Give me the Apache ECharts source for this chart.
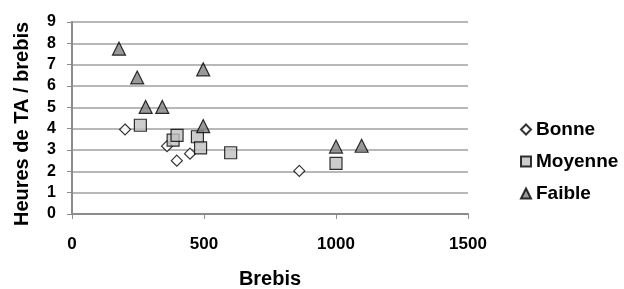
<!DOCTYPE html>
<html>
<head>
<meta charset="utf-8">
<script src="https://cdn.jsdelivr.net/npm/echarts@6/dist/echarts.min.js"></script>
<style>
html,body{margin:0;padding:0;background:#fff;}
#chart{width:624px;height:289px;}
</style>
</head>
<body>
<div id="chart"></div>
<script>
// donnees
var bonne = [[201, 3.96], [360, 3.18], [397, 2.5], [447, 2.83], [861, 2.02]];
var moyenne = [[259, 4.16], [383, 3.46], [398, 3.69], [475, 3.62], [487, 3.1], [601, 2.87], [1000, 2.37]];
var faible = [[178, 7.75], [247, 6.4], [279, 5.02], [342, 5.02], [497, 6.78], [497, 4.12], [1000, 3.16], [1097, 3.2]];
var seriesNames = ['Bonne', 'Moyenne', 'Faible'];

var font = 'Liberation Sans, Arial, sans-serif';

var myChart = echarts.init(document.getElementById('chart'), null, {renderer: 'canvas'});
var option = {
    animation: false,
    textStyle: {fontFamily: font},
    grid: {left: 72, right: 156, top: 22, bottom: 75, outerBoundsMode: 'none'},
    legend: {
        orient: 'vertical',
        left: 515,
        top: 115,
        itemWidth: 10,
        itemHeight: 10,
        itemGap: 13,
        textStyle: {fontFamily: font, fontWeight: 'bold', fontSize: 19, color: '#000'},
        data: seriesNames
    },
    xAxis: {
        type: 'value',
        min: 0,
        max: 1500,
        interval: 500,
        name: 'Brebis',
        nameLocation: 'middle',
        nameGap: 55,
        nameTextStyle: {fontFamily: font, fontWeight: 'bold', fontSize: 20, color: '#000'},
        axisLine: {show: true, lineStyle: {color: '#8c8c8c', width: 2}},
        axisTick: {show: true, length: 5, lineStyle: {color: '#8c8c8c'}},
        axisLabel: {
            fontFamily: font, fontWeight: 'bold', fontSize: 17, color: '#000', margin: 22,
            formatter: function (v) { return String(v); }
        },
        splitLine: {show: false}
    },
    yAxis: {
        type: 'value',
        min: 0,
        max: 9,
        interval: 1,
        name: 'Heures de TA / brebis',
        nameLocation: 'middle',
        nameGap: 40,
        nameTextStyle: {fontFamily: font, fontWeight: 'bold', fontSize: 20, color: '#000', padding: [0, 12, 0, 0]},
        axisLine: {show: true, lineStyle: {color: '#8c8c8c', width: 2}},
        axisTick: {show: true, length: 5, lineStyle: {color: '#8c8c8c'}},
        axisLabel: {fontFamily: font, fontWeight: 'bold', fontSize: 16, color: '#000', margin: 16},
        splitLine: {show: true, lineStyle: {color: '#a0a0a0', width: 1.5}}
    },
    series: [
        {
            name: 'Bonne',
            type: 'scatter',
            symbol: 'diamond',
            symbolSize: 11,
            itemStyle: {color: '#ffffff', borderColor: '#000', borderWidth: 1.2},
            data: bonne
        },
        {
            name: 'Moyenne',
            type: 'scatter',
            symbol: 'rect',
            symbolSize: 12,
            itemStyle: {color: '#c0c0c0', borderColor: '#000', borderWidth: 1.2},
            data: moyenne
        },
        {
            name: 'Faible',
            type: 'scatter',
            symbol: 'triangle',
            symbolSize: 13,
            itemStyle: {color: '#7f7f7f', borderColor: '#000', borderWidth: 1.2},
            data: faible
        }
    ]
};
myChart.setOption(option);
</script>
</body>
</html>
